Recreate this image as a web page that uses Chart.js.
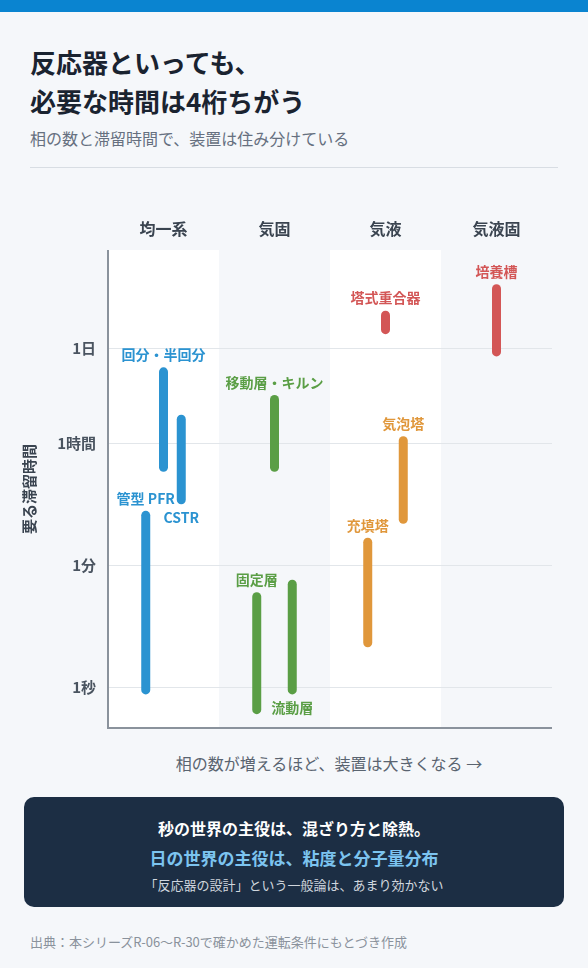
<!DOCTYPE html>
<html><head><meta charset="utf-8">
<script src="https://cdn.jsdelivr.net/npm/chart.js@4/dist/chart.umd.min.js"></script>
<style>
body{margin:0;width:588px;height:968px;background:#f5f7fa;font-family:"Noto Sans CJK JP",sans-serif;position:relative;overflow:hidden}
.bar{position:absolute;top:0;left:0;width:588px;height:12px;background:#0a84d0}
.t{position:absolute;left:30px;top:42px;font-size:26px;font-weight:700;color:#1a2330;line-height:39px}
.s{position:absolute;left:30px;top:126px;font-size:16px;color:#667080}
.hr{position:absolute;left:30px;top:167px;width:528px;height:1px;background:#d8dde3}
#wrap{position:absolute;left:0;top:190px;width:588px;height:560px}
.xt{position:absolute;left:0;width:588px;top:751px;text-align:center;font-size:16px;color:#5a6470;padding-left:70px;box-sizing:border-box}
.box{position:absolute;left:24px;top:797px;width:540px;height:110px;border-radius:10px;background:#1c2e44;text-align:center}
.b1{margin-top:19px;font-size:16px;font-weight:700;color:#fff}
.b2{margin-top:5px;font-size:17px;font-weight:700;color:#7cc4f0}
.b3{margin-top:5px;font-size:13px;color:#d0d6de}
.src{position:absolute;left:30px;top:932px;font-size:13px;color:#8a929c}
</style></head><body>
<div class="bar"></div>
<div class="t">反応器といっても、<br>必要な時間は4桁ちがう</div>
<div class="s">相の数と滞留時間で、装置は住み分けている</div>
<div class="hr"></div>
<div id="wrap"><canvas id="c"></canvas></div>
<div class="xt">相の数が増えるほど、装置は大きくなる →</div>
<div class="box"><div class="b1">秒の世界の主役は、混ざり方と除熱。</div><div class="b2">日の世界の主役は、粘度と分子量分布</div><div class="b3">「反応器の設計」という一般論は、あまり効かない</div></div>
<div class="src">出典：本シリーズR-06〜R-30で確かめた運転条件にもとづき作成</div>
<script>
const categories = ["均一系", "気固", "気液", "気液固"];
const yTicks = [1, 60, 3600, 86400];
const yTickLabels = ["1秒", "1分", "1時間", "1日"];
// reactor, category index, offset in column, min seconds, max seconds, label side
const reactors = ["管型 PFR", "回分・半回分", "CSTR", "移動層・キルン", "固定層", "流動層", "充填塔", "気泡塔", "塔式重合器", "培養槽"];
const reactorCat = [0, 0, 0, 1, 1, 1, 2, 2, 2, 3];
const reactorOffset = [-0.16, 0, 0.16, 0, -0.16, 0.16, -0.16, 0.16, 0, 0];
const timeMin = [0.93, 1600, 540, 1600, 0.48, 0.93, 4.5, 280, 160000, 76000];
const timeMax = [320, 39000, 8000, 15500, 21, 32, 130, 3900, 260000, 630000];
const labelSide = ["top", "top", "bottom", "top", "top", "bottom", "top", "top", "top", "top"];
const reactorColor = ["#2b93d1", "#2b93d1", "#2b93d1", "#5a9e45", "#5a9e45", "#5a9e45", "#e0973b", "#e0973b", "#d35656", "#d35656"];

const datasets = reactors.map((r, i) => ({
  label: r,
  data: [{x: reactorCat[i] + reactorOffset[i], y: timeMin[i]}, {x: reactorCat[i] + reactorOffset[i], y: timeMax[i]}],
  borderColor: reactorColor[i],
  borderWidth: 9, borderCapStyle: "round", pointRadius: 0, showLine: true
}));

const decor = {
  id: "decor",
  beforeDraw(ch) {
    const {ctx, chartArea: a, scales: {x}} = ch;
    categories.forEach((c, i) => {
      if (i % 2 === 0) {
        ctx.fillStyle = "#ffffff";
        const l = x.getPixelForValue(i - 0.5), r = x.getPixelForValue(i + 0.5);
        ctx.fillRect(l, a.top, r - l, a.bottom - a.top);
      }
    });
  },
  afterDraw(ch) {
    const {ctx, chartArea: a, scales: {x, y}} = ch;
    ctx.save();
    ctx.strokeStyle = "#8a929c"; ctx.lineWidth = 2;
    ctx.beginPath(); ctx.moveTo(a.left, a.top); ctx.lineTo(a.left, a.bottom); ctx.lineTo(a.right, a.bottom); ctx.stroke();
    ctx.font = "bold 16px 'Noto Sans CJK JP'"; ctx.fillStyle = "#3a4450"; ctx.textAlign = "center"; ctx.textBaseline = "middle";
    categories.forEach((c, i) => ctx.fillText(c, x.getPixelForValue(i), a.top - 21));
    ctx.font = "bold 14px 'Noto Sans CJK JP'";
    reactors.forEach((r, i) => {
      ctx.fillStyle = reactorColor[i];
      const px = x.getPixelForValue(reactorCat[i] + reactorOffset[i]);
      const py = labelSide[i] === "top" ? y.getPixelForValue(timeMax[i]) - 17 : y.getPixelForValue(timeMin[i]) + 18;
      ctx.fillText(r, px, py);
    });
    ctx.restore();
  }
};

new Chart(document.getElementById("c"), {
  type: "scatter",
  data: {datasets},
  options: {
    responsive: true, maintainAspectRatio: false, animation: false,
    layout: {padding: {top: 60, right: 36, bottom: 22, left: 20}},
    plugins: {legend: {display: false}, tooltip: {enabled: false}},
    scales: {
      x: {type: "linear", min: -0.5, max: 3.5, display: false},
      y: {
        type: "logarithmic", min: 0.26, max: 2300000,
        afterFit: s => { s.width = 88; },
        afterBuildTicks: s => { s.ticks = yTicks.map(v => ({value: v})); },
        ticks: {callback: v => yTickLabels[yTicks.indexOf(v)], font: {size: 15, weight: "bold", family: "Noto Sans CJK JP"}, color: "#4a5460", padding: 12},
        grid: {color: "#e2e6ea", drawTicks: false},
        border: {display: false},
        title: {display: true, text: "要る滞留時間", font: {size: 15, weight: "bold", family: "Noto Sans CJK JP"}, color: "#3a4450", padding: {top: 0, bottom: 0}}
      }
    }
  },
  plugins: [decor]
});
</script>
</body></html>
